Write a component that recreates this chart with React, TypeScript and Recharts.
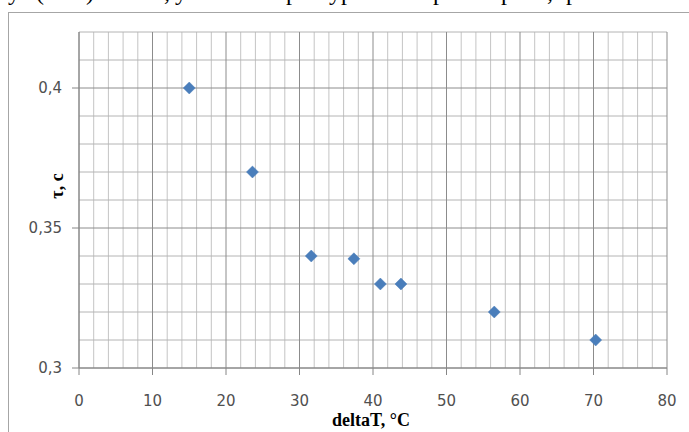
import { ScatterChart, Scatter, XAxis, YAxis, ReferenceLine, Label } from 'recharts';

const deltaT = [15, 23.6, 31.6, 37.4, 41, 43.8, 56.5, 70.3];
const tau = [0.4, 0.37, 0.34, 0.339, 0.33, 0.33, 0.32, 0.31];

const xTicks = [0, 10, 20, 30, 40, 50, 60, 70, 80];
const xMinor = [2, 4, 6, 8, 12, 14, 16, 18, 22, 24, 26, 28, 32, 34, 36, 38, 42, 44, 46, 48, 52, 54, 56, 58, 62, 64, 66, 68, 72, 74, 76, 78];
const yTicks = [0.3, 0.35, 0.4];
const yMinor = [0.31, 0.32, 0.33, 0.34, 0.36, 0.37, 0.38, 0.39, 0.41, 0.42];

// bits of the previous text line, cut off by the page edge
const cutWords: Array<[number, string]> = [
  [8, 'у'], [36, '('], [50, 'лт'], [86, ')'], [164, ','], [175, 'у'], [286, 'р'],
  [329, 'ур'], [433, 'р'], [501, 'р'], [547, ','], [566, 'р'],
];

const points = deltaT.map((x, i) => ({ x, y: tau[i] }));

const Diamond = (props: any) => {
  const { cx, cy } = props;
  if (cx == null || cy == null) return null;
  const r = 6;
  return (
    <polygon
      points={`${cx},${cy - r} ${cx + r},${cy} ${cx},${cy + r} ${cx - r},${cy}`}
      fill="#4a7ebb"
      stroke="#4a7ebb"
      strokeWidth={0.5}
    />
  );
};

const tickFont = { fill: '#505050', fontSize: 15, fontFamily: 'DejaVu Sans' };

export default function App() {
  return (
    <div style={{ position: 'fixed', left: 0, top: 0, width: 689, height: 432, background: '#fff', overflow: 'hidden' }}>
      <div style={{ position: 'absolute', left: 0, top: -20, height: 24, width: 689, fontFamily: 'Liberation Serif', fontSize: 24, lineHeight: '24px', color: '#000' }}>
        {cutWords.map(([x, w]) => (
          <span key={x} style={{ position: 'absolute', left: x, top: 0 }}>{w}</span>
        ))}
      </div>
      <div style={{ position: 'absolute', left: 8, top: 12, width: 720, height: 460, border: '1px solid #a6a6a6' }} />
      <div style={{ position: 'absolute', left: 0, top: 0 }}>
        <ScatterChart width={689} height={432} margin={{ top: 32, right: 22, left: 19, bottom: 34 }}>
          <XAxis
            type="number"
            dataKey="x"
            domain={[0, 80]}
            ticks={xTicks}
            interval={0}
            allowDataOverflow
            height={30}
            stroke="#868686"
            tickSize={7}
            tickMargin={20}
            tick={tickFont}
          >
            <Label
              content={() => (
                <text x={371} y={426} textAnchor="middle" fontFamily="Liberation Serif" fontWeight="bold" fontSize={18} fill="#000">
                  deltaT, °C
                </text>
              )}
            />
          </XAxis>
          <YAxis
            type="number"
            dataKey="y"
            domain={[0.3, 0.42]}
            ticks={yTicks}
            interval={0}
            allowDataOverflow
            width={60}
            stroke="#868686"
            tickSize={7}
            tickMargin={10}
            tick={tickFont}
            tickFormatter={(v: number) => String(v).replace('.', ',')}
          >
            <Label
              content={() => (
                <text x={63} y={186} transform="rotate(-90 63 186)" textAnchor="middle" fontFamily="Liberation Serif" fontWeight="bold" fontSize={18} fill="#000">
                  τ, с
                </text>
              )}
            />
          </YAxis>
          {xMinor.map((v) => (
            <ReferenceLine key={'xm' + v} x={v} stroke="#c4c4c4" strokeWidth={1} />
          ))}
          {yMinor.map((v) => (
            <ReferenceLine key={'ym' + v} y={v} stroke="#b4b4b4" strokeWidth={1} />
          ))}
          {xTicks.map((v) => (
            <ReferenceLine key={'xM' + v} x={v} stroke="#8c8c8c" strokeWidth={1} />
          ))}
          {yTicks.map((v) => (
            <ReferenceLine key={'yM' + v} y={v} stroke="#8c8c8c" strokeWidth={1} />
          ))}
          <Scatter data={points} shape={Diamond} isAnimationActive={false} />
        </ScatterChart>
      </div>
    </div>
  );
}
